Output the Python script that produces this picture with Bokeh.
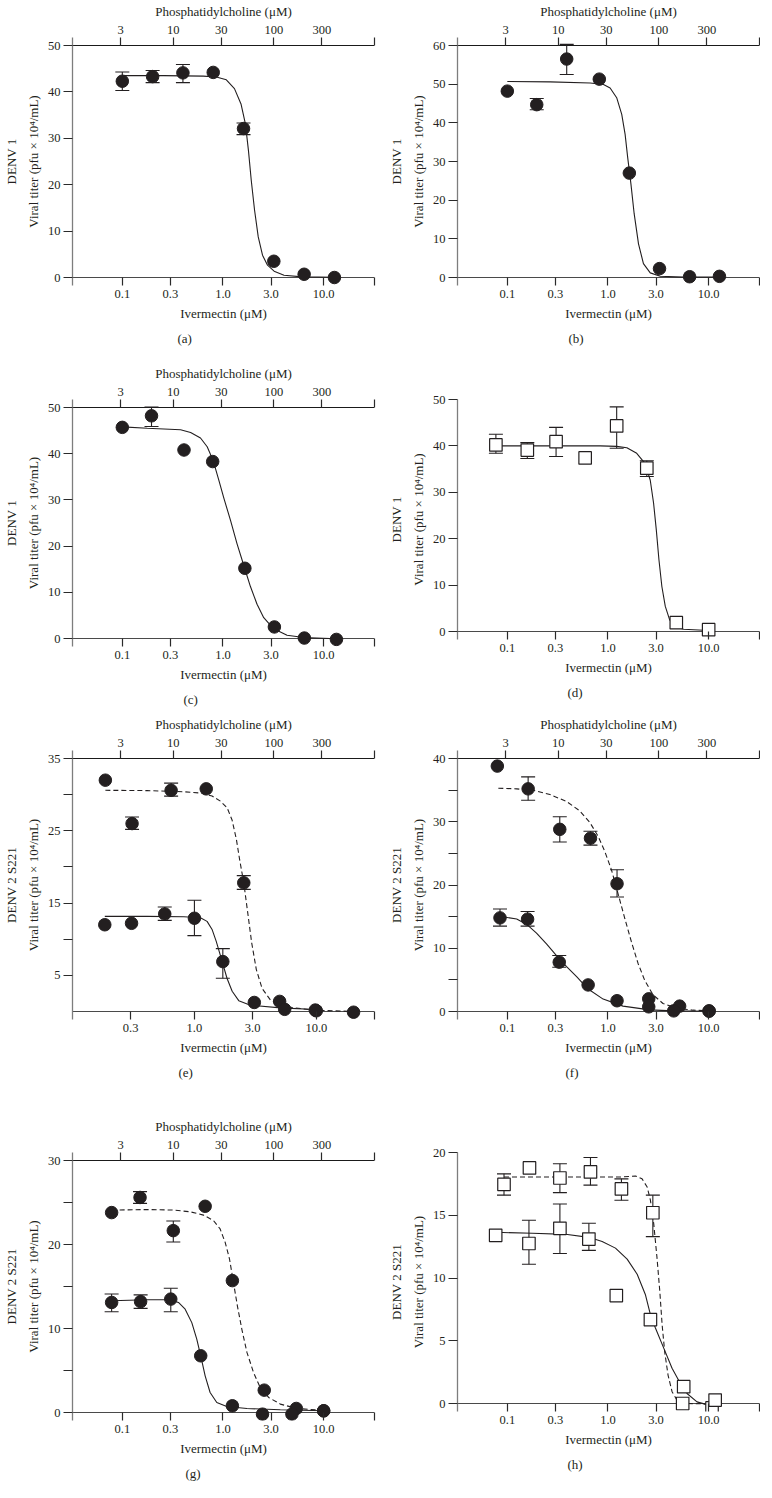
from bokeh.plotting import figure
from bokeh.models import (Range1d, LogScale, LogAxis, FixedTicker, Span, Whisker,
                          TeeHead, ColumnDataSource, Title)
from bokeh.layouts import column, row
from bokeh.embed import file_html
from bokeh.resources import INLINE

# ---------------- data ----------------
# (a) DENV 1
a_x = [0.1, 0.2, 0.4, 0.8, 1.6, 3.2, 6.4, 12.8]
a_y = [42.3, 43.3, 44.1, 44.2, 32.1, 3.5, 0.7, 0.0]
a_lo = [40.3, 42.0, 42.0, None, 30.8, None, None, None]
a_hi = [44.3, 44.6, 45.9, None, 33.3, None, None, None]
a_fx = [0.102, 0.257, 0.636, 0.859, 1.08, 1.30, 1.51, 1.67, 1.79, 1.91, 2.06, 2.24, 2.47, 2.77, 3.22, 4.04, 6.12, 13.0]
a_fy = [43.5, 43.5, 43.4, 43.2, 42.6, 40.7, 37.4, 33.1, 27.4, 20.9, 14.5, 8.75, 4.8, 2.65, 1.36, 0.5, 0.14, 0.07]

# (b) DENV 1
b_x = [0.1, 0.196, 0.389, 0.82, 1.63, 3.25, 6.47, 12.8]
b_y = [48.2, 44.7, 56.5, 51.3, 27.0, 2.3, 0.2, 0.3]
b_lo = [None, 43.4, 52.5, None, None, None, None, None]
b_hi = [None, 46.3, 60.3, None, None, None, None, None]
b_fx = [0.1, 0.266, 0.665, 0.902, 1.05, 1.22, 1.37, 1.48, 1.57, 1.69, 1.82, 2.01, 2.25, 2.63, 3.31, 5.63, 12.8]
b_fy = [50.7, 50.6, 50.3, 49.9, 49.0, 46.5, 42.2, 37.0, 31.0, 24.2, 16.5, 8.7, 3.6, 1.2, 0.34, 0.09, 0.09]

# (c) DENV 1
c_x = [0.1, 0.195, 0.41, 0.79, 1.65, 3.24, 6.43, 13.4]
c_y = [45.7, 48.2, 40.8, 38.3, 15.2, 2.5, 0.1, -0.2]
c_lo = [None, 45.9, None, None, None, None, None, None]
c_hi = [None, 50.1, None, None, None, None, None, None]
c_fx = [0.1, 0.177, 0.379, 0.477, 0.598, 0.697, 0.799, 0.909, 1.02, 1.19, 1.38, 1.61, 1.87, 2.18, 2.54, 3.19, 4.33, 6.34, 13.4]
c_fy = [45.8, 45.5, 45.2, 44.6, 43.4, 41.5, 38.5, 34.3, 30.4, 25.5, 20.5, 15.8, 11.3, 7.4, 4.5, 2.1, 0.7, 0.2, -0.07]

# (d) DENV 1 (open squares)
d_x = [0.077, 0.158, 0.305, 0.593, 1.22, 2.43, 4.77, 10.0]
d_y = [40.2, 39.1, 40.9, 37.4, 44.3, 35.2, 1.9, 0.4]
d_lo = [38.4, 37.3, 37.7, None, 39.5, 33.4, None, None]
d_hi = [42.5, 40.7, 44.0, None, 48.4, 36.8, None, None]
d_fx = [0.077, 0.266, 0.836, 1.22, 1.54, 1.93, 2.34, 2.63, 2.84, 3.02, 3.21, 3.43, 3.71, 4.10, 4.66, 5.63, 10.0]
d_fy = [40.0, 40.0, 40.0, 39.9, 39.6, 38.4, 36.2, 32.6, 27.6, 21.9, 15.4, 9.7, 5.4, 2.5, 1.1, 0.5, 0.2]

# (e) DENV 2 S221 : dashed series and solid series
e1_x = [0.186, 0.308, 0.644, 1.25, 2.54, 5.0, 10.0, 20.2]
e1_y = [32.0, 26.0, 30.6, 30.8, 17.8, 1.4, 0.1, -0.1]
e1_lo = [None, 25.2, 29.8, None, 16.9, None, None, None]
e1_hi = [None, 26.9, 31.6, None, 18.8, None, None, None]
e1_fx = [0.186, 0.409, 0.818, 1.156, 1.396, 1.633, 1.853, 2.036, 2.21, 2.35, 2.54, 2.74, 2.95, 3.22, 3.59, 4.20, 5.40, 9.5, 20.2]
e1_fy = [30.6, 30.56, 30.4, 30.2, 29.8, 29.1, 28.2, 26.5, 23.8, 21.0, 17.8, 13.6, 9.5, 5.8, 3.2, 1.6, 0.7, 0.18, 0.0]
e2_x = [0.184, 0.305, 0.571, 1.0, 1.71, 3.1, 5.5, 9.8]
e2_y = [12.0, 12.2, 13.5, 12.9, 6.9, 1.25, 0.3, 0.2]
e2_lo = [None, None, 12.6, 10.5, 4.6, None, None, None]
e2_hi = [None, None, 14.45, 15.4, 8.7, None, None, None]
e2_fx = [0.184, 0.409, 0.818, 1.12, 1.27, 1.40, 1.51, 1.61, 1.72, 1.85, 2.04, 2.31, 2.88, 5.07, 9.8]
e2_fy = [13.16, 13.16, 13.1, 12.97, 12.47, 11.3, 9.7, 8.1, 6.46, 4.6, 2.8, 1.5, 0.88, 0.5, 0.28]

# (f) DENV 2 S221
f1_x = [0.0796, 0.161, 0.332, 0.67, 1.23, 2.54, 5.15, 10.1]
f1_y = [38.8, 35.2, 28.8, 27.4, 20.2, 2.0, 0.85, 0.1]
f1_lo = [None, 33.4, 26.8, 26.3, 18.1, None, None, None]
f1_hi = [None, 37.1, 30.8, 28.5, 22.4, None, None, None]
f1_fx = [0.0814, 0.124, 0.181, 0.265, 0.388, 0.526, 0.660, 0.799, 0.930, 1.083, 1.26, 1.47, 1.71, 1.99, 2.32, 2.80, 3.52, 4.78, 7.0, 10.1]
f1_fy = [35.3, 35.2, 34.97, 34.3, 33.2, 31.7, 29.9, 27.7, 25.3, 22.4, 18.6, 14.7, 11.0, 7.6, 4.9, 2.65, 1.27, 0.53, 0.21, 0.1]
f2_x = [0.0846, 0.159, 0.328, 0.635, 1.23, 2.54, 4.5, 10.1]
f2_y = [14.8, 14.6, 7.8, 4.2, 1.7, 0.74, 0.1, 0.05]
f2_lo = [13.5, 13.5, 7.0, None, None, None, None, None]
f2_hi = [16.2, 15.8, 8.85, None, None, None, None, None]
f2_fx = [0.0846, 0.124, 0.156, 0.195, 0.245, 0.308, 0.388, 0.488, 0.635, 0.895, 1.41, 2.60, 4.43, 10.1]
f2_fy = [15.05, 14.62, 13.77, 12.4, 10.7, 8.85, 7.1, 5.5, 3.55, 1.96, 0.85, 0.26, 0.1, 0.05]

# (g) DENV 2 S221
g1_x = [0.0783, 0.150, 0.321, 0.665, 1.24, 2.57, 5.35, 10.0]
g1_y = [23.8, 25.6, 21.65, 24.55, 15.7, 2.66, 0.48, 0.2]
g1_lo = [None, 24.9, 20.3, None, None, None, None, None]
g1_hi = [None, 26.3, 22.8, None, None, None, None, None]
g1_fx = [0.0783, 0.175, 0.321, 0.471, 0.640, 0.804, 0.937, 1.051, 1.16, 1.27, 1.39, 1.54, 1.73, 2.01, 2.34, 2.84, 3.71, 5.43, 10.0]
g1_fy = [24.1, 24.16, 24.1, 23.9, 23.5, 22.85, 21.85, 20.26, 18.3, 15.5, 12.7, 9.9, 7.15, 4.77, 2.98, 1.79, 1.0, 0.48, 0.24]
g2_x = [0.0783, 0.152, 0.303, 0.601, 1.24, 2.47, 4.84, 10.0]
g2_y = [13.1, 13.2, 13.5, 6.75, 0.8, -0.2, -0.2, 0.2]
g2_lo = [12.0, 12.4, 12.0, None, None, None, None, None]
g2_hi = [14.1, 14.0, 14.8, None, None, None, None, None]
g2_fx = [0.0783, 0.175, 0.298, 0.361, 0.421, 0.490, 0.549, 0.601, 0.665, 0.745, 0.868, 1.09, 1.73, 3.71, 10.0]
g2_fy = [13.3, 13.43, 13.43, 13.1, 12.3, 10.7, 8.74, 6.75, 4.37, 2.38, 1.19, 0.72, 0.48, 0.32, 0.2]

# (h) DENV 2 S221 (open squares)
h1_x = [0.0927, 0.166, 0.333, 0.670, 1.36, 2.79, 5.52, 10.8]
h1_y = [17.46, 18.77, 17.97, 18.45, 17.1, 15.2, 0.0, -0.35]
h1_lo = [16.6, None, 16.8, 17.4, 16.2, 13.3, None, None]
h1_hi = [18.3, None, 19.1, 19.6, 17.9, 16.6, None, None]
h1_fx = [0.0927, 0.259, 0.811, 1.38, 1.87, 2.18, 2.45, 2.64, 2.85, 3.07, 3.27, 3.45, 3.66, 3.95, 4.33, 4.85, 5.87, 11.6]
h1_fy = [18.05, 18.05, 18.05, 18.05, 18.13, 17.9, 17.25, 16.2, 14.3, 11.6, 8.96, 6.28, 4.1, 2.27, 0.94, 0.27, 0.0, -0.05]
h2_x = [0.0766, 0.164, 0.333, 0.646, 1.21, 2.64, 5.65, 11.6]
h2_y = [13.4, 12.75, 13.96, 13.1, 8.6, 6.68, 1.34, 0.27]
h2_lo = [None, 11.1, 11.95, 12.2, None, None, None, None]
h2_hi = [None, 14.6, 15.9, 14.36, None, None, None, None]
h2_fx = [0.0766, 0.177, 0.379, 0.646, 0.875, 1.187, 1.55, 1.95, 2.35, 2.64, 2.96, 3.58, 4.33, 5.24, 6.10, 7.66, 10.0]
h2_fy = [13.64, 13.56, 13.48, 13.24, 12.91, 12.38, 11.5, 10.3, 8.69, 7.09, 6.02, 4.41, 2.81, 1.6, 0.8, 0.13, -0.13]

# axis ticks / labels
ivm_ticks = [0.1, 0.3, 1.0, 3.0, 10.0]
ivm_labels = ["0.1", "0.3", "1.0", "3.0", "10.0"]
pc_ticks = [3, 10, 30, 100, 300]
pc_labels = ["3", "10", "30", "100", "300"]
x_label = "Ivermectin (μM)"
top_label = "Phosphatidylcholine (μM)"
y_label_1 = "DENV 1\nViral titer (pfu × 10⁴/mL)"
y_label_2 = "DENV 2 S221\nViral titer (pfu × 10⁴/mL)"

# ---------------- styling ----------------
FONT = "Liberation Serif"
INK = "#231f20"
PAD = 8


def style_text(ax, size="12.5px"):
    ax.major_label_text_font = FONT
    ax.major_label_text_font_size = size
    ax.major_label_text_color = INK
    ax.axis_label_text_font = FONT
    ax.axis_label_text_font_size = "13px"
    ax.axis_label_text_font_style = "normal"
    ax.axis_label_text_color = INK
    ax.minor_tick_line_color = None
    ax.major_tick_line_color = "#2a2a2a"
    ax.major_tick_line_width = 1.2


def panel(letter, letter_x, ylabel, xr, ymax, yticks, ylabeled, data_px, top_axis,
          btop, bbot, bleft, bright, series, xticks, xlabels):
    top_pad = PAD if top_axis else 0
    per_px = ymax / data_px
    y_range = Range1d(-PAD * per_px, ymax + top_pad * per_px)
    p = figure(x_axis_type="log", x_range=Range1d(*xr), y_range=y_range,
               frame_width=302, frame_height=data_px + PAD + top_pad,
               min_border_top=btop, min_border_bottom=bbot,
               min_border_left=bleft, min_border_right=bright,
               output_backend="svg", toolbar_location=None,
               background_fill_color="white", border_fill_color="white")
    p.title.visible = False
    p.outline_line_color = None
    p.xgrid.visible = False
    p.ygrid.visible = False

    # bottom axis (line drawn as span at y=0)
    bx = p.xaxis[0]
    end_tick = xr[1] * 0.999
    bx.ticker = FixedTicker(ticks=list(xticks) + [end_tick])
    ov = {t: l for t, l in zip(xticks, xlabels)}
    ov[end_tick] = ""
    bx.major_label_overrides = ov
    bx.axis_line_color = None
    bx.major_tick_in = PAD
    bx.major_tick_out = 0
    bx.major_label_standoff = 4
    bx.axis_label = x_label
    bx.axis_label_standoff = 5
    style_text(bx)

    # left axis
    ly = p.yaxis[0]
    ly.ticker = FixedTicker(ticks=yticks)
    ly.major_label_overrides = {t: (str(t) if t in ylabeled else "") for t in yticks}
    ly.axis_line_color = "#7d7d7d"
    ly.axis_line_width = 1.3
    ly.major_tick_out = 9
    ly.major_tick_in = 0
    ly.major_label_standoff = 3
    ly.axis_label = ylabel
    ly.axis_label_standoff = 4
    ly.axis_label_text_line_height = 1.5
    style_text(ly)

    p.add_layout(Span(location=0, dimension="width", line_color="#4a4a4a",
                      line_width=1.2, level="underlay"))

    if top_axis:
        p.extra_x_ranges = {"pc": Range1d(1, 1000)}
        p.extra_x_scales = {"pc": LogScale()}
        tx = LogAxis(x_range_name="pc")
        tend = 1000 * 0.999
        tx.ticker = FixedTicker(ticks=list(pc_ticks) + [tend])
        tov = {t: l for t, l in zip(pc_ticks, pc_labels)}
        tov[tend] = ""
        tx.major_label_overrides = tov
        tx.axis_line_color = None
        tx.major_tick_in = PAD
        tx.major_tick_out = 0
        tx.major_label_standoff = 4
        tx.axis_label = top_label
        tx.axis_label_standoff = 4
        style_text(tx)
        p.add_layout(tx, "above")
        p.add_layout(Span(location=ymax, dimension="width", line_color="#1a1a1a",
                          line_width=1.2, level="underlay"))

    for s in series:
        xs, ys, lo, hi, fx, fy, dash, mk = s
        p.line(fx, fy, line_color=INK, line_width=1.1,
               line_dash=("5 3" if dash else "solid"))
        idx = [i for i in range(len(xs)) if lo[i] is not None]
        if idx:
            src = ColumnDataSource(dict(x=[xs[i] for i in idx],
                                        lo=[lo[i] for i in idx],
                                        hi=[hi[i] for i in idx]))
            p.add_layout(Whisker(source=src, base="x", lower="lo", upper="hi",
                                 line_color=INK, line_width=1.1,
                                 upper_head=TeeHead(size=14, line_color=INK, line_width=1.1),
                                 lower_head=TeeHead(size=14, line_color=INK, line_width=1.1)))
    for s in series:
        xs, ys, lo, hi, fx, fy, dash, mk = s
        if mk == "circle":
            p.scatter(xs, ys, marker="circle", size=12.5, fill_color=INK,
                      line_color=INK, line_width=1)
        else:
            p.scatter(xs, ys, marker="square", size=12.5, fill_color="white",
                      line_color=INK, line_width=1.2)

    # panel letter, centred on the column (not on the frame)
    frame_left = 8 + bleft if bright > 4 else 386 + bleft
    p.add_layout(Title(text="(%s)" % letter, align="left",
                       offset=letter_x - 7 - frame_left, text_font=FONT,
                       text_font_size="13px", text_font_style="normal",
                       text_color=INK, standoff=10), "below")
    return p


XR = (0.032, 32)
t10 = [0, 10, 20, 30, 40, 50]
t10_60 = [0, 10, 20, 30, 40, 50, 60]

pa = panel("a", 188, y_label_1, XR, 50, t10, t10, 232, True, 36, 68, 68, 8,
           [(a_x, a_y, a_lo, a_hi, a_fx, a_fy, False, "circle")], ivm_ticks, ivm_labels)
pb = panel("b", 579, y_label_1, XR, 60, t10_60, t10_60, 232, True, 36, 68, 75, 1,
           [(b_x, b_y, b_lo, b_hi, b_fx, b_fy, False, "circle")], ivm_ticks, ivm_labels)
pc = panel("c", 194, y_label_1, XR, 50, t10, t10, 231, True, 39, 74, 68, 8,
           [(c_x, c_y, c_lo, c_hi, c_fx, c_fy, False, "circle")], ivm_ticks, ivm_labels)
pd = panel("d", 578, y_label_1, XR, 50, t10, t10, 232, False, 46, 74, 75, 1,
           [(d_x, d_y, d_lo, d_hi, d_fx, d_fy, False, "square")], ivm_ticks, ivm_labels)
pe = panel("e", 189, y_label_2, (0.1, 30), 35, [5, 10, 15, 20, 25, 30, 35], [5, 15, 25, 35], 253, True, 34, 77, 68, 8,
           [(e1_x, e1_y, e1_lo, e1_hi, e1_fx, e1_fy, True, "circle"),
            (e2_x, e2_y, e2_lo, e2_hi, e2_fx, e2_fy, False, "circle")],
           [0.3, 1.0, 3.0, 10.0], ["0.3", "1.0", "3.0", "10.0"])
pf = panel("f", 576, y_label_2, XR, 40, [0, 5, 10, 15, 20, 25, 30, 35, 40], [0, 10, 20, 30, 40], 253, True, 34, 77, 75, 1,
           [(f1_x, f1_y, f1_lo, f1_hi, f1_fx, f1_fy, True, "circle"),
            (f2_x, f2_y, f2_lo, f2_hi, f2_fx, f2_fy, False, "circle")], ivm_ticks, ivm_labels)
pg = panel("g", 196, y_label_2, XR, 30, [0, 5, 10, 15, 20, 25, 30], [0, 10, 20, 30], 252, True, 47, 75, 68, 8,
           [(g1_x, g1_y, g1_lo, g1_hi, g1_fx, g1_fy, True, "circle"),
            (g2_x, g2_y, g2_lo, g2_hi, g2_fx, g2_fy, False, "circle")], ivm_ticks, ivm_labels)
ph = panel("h", 578, y_label_2, XR, 20, [0, 5, 10, 15, 20], [0, 5, 10, 15, 20], 251, False, 56, 75, 75, 1,
           [(h1_x, h1_y, h1_lo, h1_hi, h1_fx, h1_fy, True, "square"),
            (h2_x, h2_y, h2_lo, h2_hi, h2_fx, h2_fy, False, "square")], ivm_ticks, ivm_labels)

layout = column(row(pa, pb), row(pc, pd), row(pe, pf), row(pg, ph))
open("out.html", "w").write(file_html(layout, INLINE))
